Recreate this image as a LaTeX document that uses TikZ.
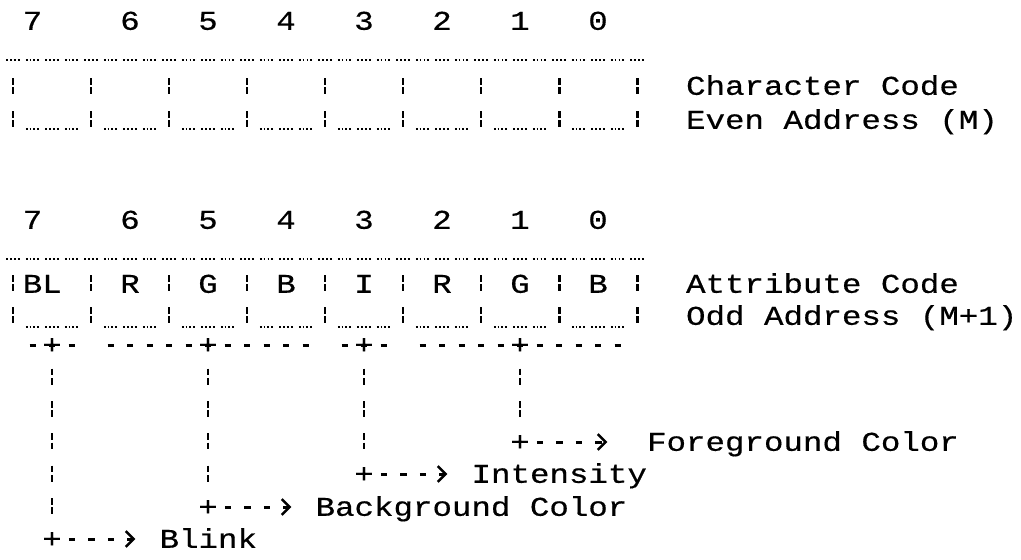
\documentclass[tikz,border=0pt]{standalone}
\usepackage{fontspec}
\newfontfamily\dotfont[FakeStretch=1.2, FakeBold=0.5]{Liberation Mono}
\usetikzlibrary{arrows.meta}

\begin{document}
\begin{tikzpicture}[x=0.02cm, y=-0.02cm,
  txt/.style={font={\dotfont\fontsize{15.4pt}{18pt}\selectfont}, inner sep=0pt, text height=10pt, text depth=0pt},
  rule/.style={line width=1.5pt, dash pattern=on 1pt off 1.2pt on 1pt off 1.2pt on 1pt off 1.2pt on 1pt off 3.5pt},
  bang/.style={line width=1.7pt, dash pattern=on 3.8pt off 1.5pt},
  vbar/.style={line width=1.7pt, dash pattern=on 3.8pt off 1.5pt on 3.8pt off 9.3pt, shorten <=8.3pt},
  minus/.style={line width=1.7pt, dash pattern=on 3.6pt off 7.5pt},
]

% Parameters
\def\cw{19.5}  % width of one character column
\def\ox{13}    % x of column 0
\def\yP{345}   % row of the -+- marks

\useasboundingbox (0,0) rectangle (1021,559);

% Bit numbers of both bytes
\foreach \b/\c in {7/1,6/6,5/10,4/14,3/18,2/22,1/26,0/30} {
  \node[txt] (na\b) at ({\ox+\c*\cw},21) {\b};
  \node[txt] (nb\b) at ({\ox+\c*\cw},220) {\b};
}

% Frames: top rule, bars, bottom underscores
\foreach \yr/\ya/\yb/\yu in {60/87/120/129, 259/284/316/327} {
  \draw[rule] ({\ox-\cw/2+3},\yr) -- ({\ox+32.5*\cw},\yr);
  \foreach \k in {0,...,8} {
    \draw[bang] ({\ox+4*\k*\cw},\ya-9) -- ++(0,18);
    \draw[bang] ({\ox+4*\k*\cw},\yb-9) -- ++(0,18);
  }
  \foreach \k in {0,...,7}
    \draw[rule] ({\ox+(4*\k+0.5)*\cw+3},\yu) -- ++({3*\cw-3},0);
}

% Attribute bits
\node[txt] (bl) at ({\ox+1.5*\cw},284) {BL};
\foreach \t/\c in {R/6,G/10,B/14,I/18,R/22,G/26,B/30}
  \node[txt] (bit\c) at ({\ox+\c*\cw},284) {\t};

% Byte names
\node[txt, anchor=west] (chr)  at ({\ox+34.5*\cw},86)  {Character Code};
\node[txt, anchor=west] (even) at ({\ox+34.5*\cw},120) {Even Address (M)};
\node[txt, anchor=west] (attr) at ({\ox+34.5*\cw},284) {Attribute Code};
\node[txt, anchor=west] (odd)  at ({\ox+34.5*\cw},316) {Odd Address (M+1)};

% Field marks under the attribute byte
\foreach \a/\b/\m/\n in {1/3/2/p7, 5/15/10/p5, 17/19/18/p3, 21/31/26/p1} {
  \draw[minus] ({\ox+\a*\cw-3},\yP) -- ({\ox+\b*\cw+3},\yP);
  \node[txt] (\n) at ({\ox+\m*\cw},\yP) {+};
}

% Field names
\node[txt, anchor=west] (fg)  at ({\ox+32.5*\cw},442) {Foreground Color};
\node[txt, anchor=west] (int) at ({\ox+23.5*\cw},474) {Intensity};
\node[txt, anchor=west] (bg)  at ({\ox+15.5*\cw},507) {Background Color};
\node[txt, anchor=west] (blk) at ({\ox+7.5*\cw},539)  {Blink};

% Leaders from the marks to the names
\foreach \p/\q/\l/\s in {p7/q7/blk/13.6pt, p5/q5/bg/13.6pt, p3/q3/int/13.6pt, p1/q1/fg/22.4pt} {
  \node[txt] (\q) at (\p |- \l) {+};
  \draw[vbar] (\p) -- (\q);
  \draw[minus, shorten <=3.8pt, shorten >=\s, -{Straight Barb[length=4.5pt, width=9pt, line width=1.4pt]}] (\q) -- (\l);
}

\end{tikzpicture}
\end{document}
